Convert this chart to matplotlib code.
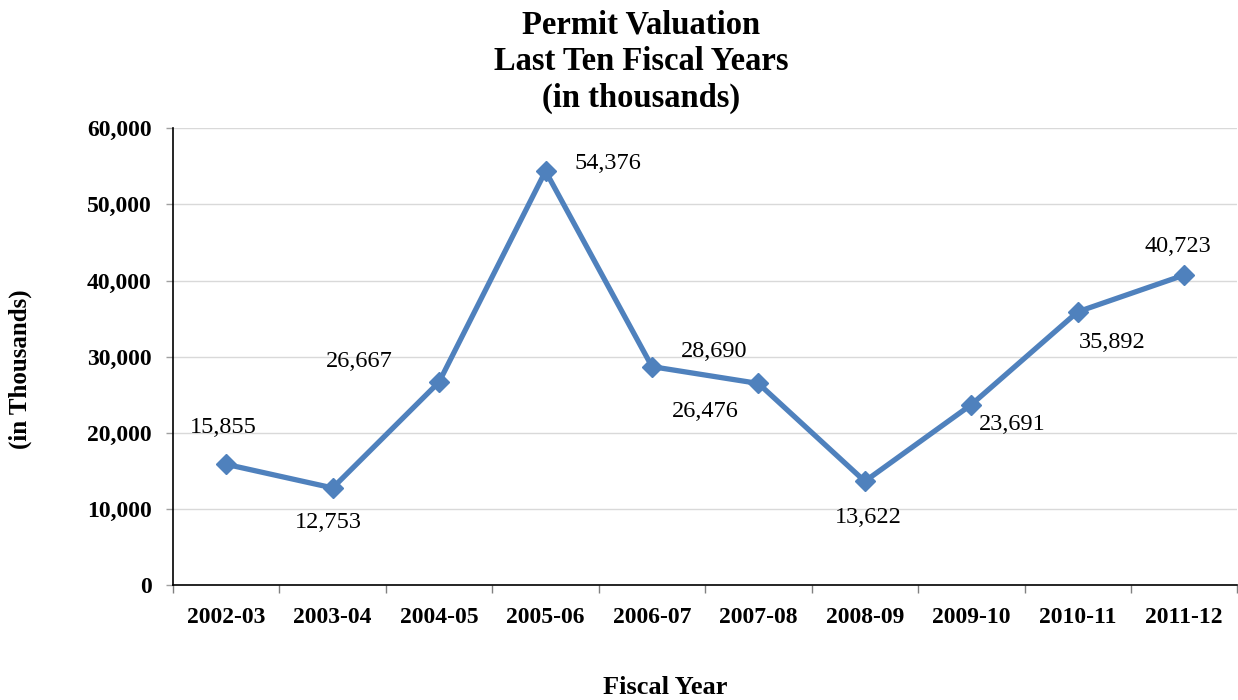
import matplotlib
matplotlib.use("Agg")
import matplotlib.pyplot as plt
from matplotlib.ticker import FuncFormatter, FixedLocator

plt.rcParams['font.family'] = ['Liberation Serif', 'DejaVu Serif']

# ---- data ----
years = ["2002-03", "2003-04", "2004-05", "2005-06", "2006-07",
         "2007-08", "2008-09", "2009-10", "2010-11", "2011-12"]
valuation = [15855, 12753, 26667, 54376, 28690, 26476, 13622, 23691, 35892, 40723]
y_ticks = [0, 10000, 20000, 30000, 40000, 50000, 60000]

title_text = "Permit Valuation\nLast Ten Fiscal Years\n(in thousands)"
x_label = "Fiscal Year"
y_label = "(in Thousands)"

# label offsets in pixels (style only)
label_offsets = [(-3, 37), (-4, -35), (-80, 21), (62, 8), (62, 15),
                 (-53, -28), (3, -36), (41, -20), (34, -31), (-6, 29)]

W, H = 1238, 700
fig = plt.figure(figsize=(W / 100, H / 100), dpi=100)
ax = fig.add_axes([173 / W, 1 - 585 / H, (W - 173) / W - 0.0005, (585 - 128.3) / H])

line_color = "#4F81BD"
x = list(range(len(years)))
ax.plot(x, valuation, color=line_color, linewidth=3.8, marker='D',
        markersize=10, markerfacecolor=line_color, markeredgecolor=line_color,
        markeredgewidth=1, solid_joinstyle='miter', zorder=3, clip_on=False)

for xi, v, (dx, dy) in zip(x, valuation, label_offsets):
    ax.annotate(f"{v:,}", (xi, v), xytext=(dx, dy), textcoords='offset pixels',
                ha='center', va='center', fontsize=17.5, color='black')

ax.set_xlim(-0.5, len(years) - 0.5)
ax.set_ylim(0, 60000)

# y axis
ax.yaxis.set_major_locator(FixedLocator(y_ticks))
ax.yaxis.set_major_formatter(FuncFormatter(lambda v, p: f"{int(v):,}"))
ax.tick_params(axis='y', which='major', length=5, width=1, color='#A0A0A0',
               pad=10.5, labelsize=17)
for lab in ax.get_yticklabels():
    lab.set_fontweight('bold')

# x axis: labels at centers, tick marks at boundaries
ax.set_xticks(x)
ax.set_xticklabels(years, fontweight='bold', fontsize=17)
ax.tick_params(axis='x', which='major', length=0, pad=16)
ax.set_xticks([i - 0.5 for i in range(len(years) + 1)], minor=True)
ax.tick_params(axis='x', which='minor', length=6, width=1, color='#808080')

ax.grid(axis='y', color='#D9D9D9', linewidth=1)
ax.set_axisbelow(True)
for s in ['top', 'right']:
    ax.spines[s].set_visible(False)
for s in ['left', 'bottom']:
    ax.spines[s].set_color('black')
    ax.spines[s].set_linewidth(1.2)

fig.text(641 / W, 1 - 62 / H, title_text, ha='center', va='center',
         fontsize=23.5, fontweight='bold', linespacing=1.24)
fig.text(665 / W, 1 - 687 / H, x_label, ha='center', va='center',
         fontsize=19, fontweight='bold')
fig.text(20 / W, 1 - 369 / H, y_label, ha='center', va='center',
         fontsize=18, fontweight='bold', rotation=90)

fig.savefig("out.png", dpi=100)
